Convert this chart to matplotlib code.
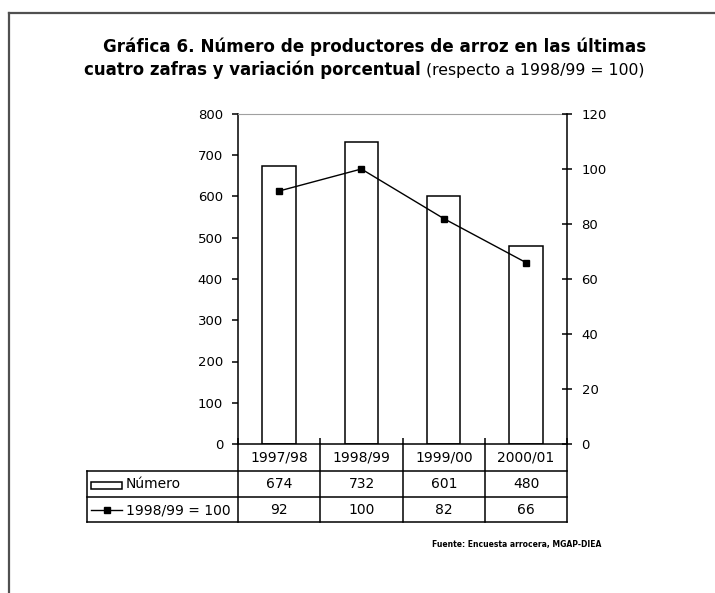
import matplotlib
matplotlib.use('Agg')
import matplotlib.pyplot as plt
from matplotlib.lines import Line2D
from matplotlib.patches import Rectangle

# Data
zafras = ['1997/98', '1998/99', '1999/00', '2000/01']
numero = [674, 732, 601, 480]
indice = [92, 100, 82, 66]

plt.rcParams['font.family'] = ['DejaVu Sans']

W, H = 715, 593
fig = plt.figure(figsize=(W / 100, H / 100), dpi=100)


def fx(x):
    return x / W


def fy(y):
    return 1 - y / H


def fline(xs, ys, color='black', lw=1.1, **kw):
    fig.add_artist(Line2D([fx(v) for v in xs], [fy(v) for v in ys],
                          transform=fig.transFigure, color=color,
                          lw=lw, **kw))


# outer frame (left and top only)
fline([9, 9], [13, 600], color='#505050', lw=1.6)
fline([9, 720], [13, 13], color='#505050', lw=1.6)

# axes
x0, x1, ytop, ybot = 238, 567, 114, 444
ax = fig.add_axes([fx(x0), fy(ybot), (x1 - x0) / W, (ybot - ytop) / H])
pos = list(range(len(zafras)))
ax.bar(pos, numero, width=0.41, facecolor='white', edgecolor='black', lw=1.1)
ax.set_xlim(-0.5, len(zafras) - 0.5)
ax.set_ylim(0, 800)
ax.set_yticks(range(0, 801, 100))
ax.set_xticks([p - 0.5 for p in pos] + [len(zafras) - 0.5])
ax.set_xticklabels([])
ax.tick_params(axis='x', direction='in', length=4, width=1.1)
ax.tick_params(axis='y', direction='out', length=4, width=1.1,
               labelsize=9.5, pad=6.8)
ax.spines['top'].set_color('#a0a0a0')
ax.spines['right'].set_visible(False)
for s in ['left', 'bottom']:
    ax.spines[s].set_linewidth(1.1)

ax2 = ax.twinx()
ax2.plot(pos, indice, color='black', lw=1.0, marker='s', markersize=5)
ax2.set_ylim(0, 120)
ax2.set_yticks(range(0, 121, 20))
ax2.tick_params(axis='y', direction='inout', length=7, width=1.1,
                labelsize=9.5, pad=7)
ax2.spines['right'].set_linewidth(1.1)
for s in ['top', 'left', 'bottom']:
    ax2.spines[s].set_visible(False)

# title
fig.text(fx(375), fy(47), 'Gráfica 6. Número de productores de arroz en las últimas',
         ha='center', va='center', fontsize=12.1, fontweight='bold')
t2 = fig.text(fx(84), fy(70), 'cuatro zafras y variación porcentual',
              ha='left', va='center', fontsize=11.9, fontweight='bold')
ax.annotate(' (respecto a 1998/99 = 100)', xy=(1, 0.5), xycoords=t2,
            ha='left', va='center', fontsize=11.3, annotation_clip=False)

# data table
cols = [238, 320, 403, 485, 567]
rows = [444, 471, 497, 522]
tl = 87
for c in cols:
    fline([c, c], [rows[0], rows[-1]])
for r in rows[1:]:
    fline([tl, cols[-1]], [r, r])
fline([tl, tl], [rows[1], rows[-1]])

centers = [(cols[i] + cols[i + 1]) / 2 for i in range(len(zafras))]
for i, z in enumerate(zafras):
    fig.text(fx(centers[i]), fy((rows[0] + rows[1]) / 2), z,
             ha='center', va='center', fontsize=10)
    fig.text(fx(centers[i]), fy((rows[1] + rows[2]) / 2), str(numero[i]),
             ha='center', va='center', fontsize=10)
    fig.text(fx(centers[i]), fy((rows[2] + rows[3]) / 2), str(indice[i]),
             ha='center', va='center', fontsize=10)

# legend keys inside the table
fig.add_artist(Rectangle((fx(91), fy(489)), (122 - 91) / W, 7 / H,
                         transform=fig.transFigure, facecolor='white',
                         edgecolor='black', lw=1.1))
fig.text(fx(126), fy(484), 'Número', ha='left', va='center', fontsize=10)
fline([91, 122], [510, 510], lw=1.0)
fline([106.5], [510], lw=0, marker='s', markersize=5)
fig.text(fx(126), fy(510), '1998/99 = 100', ha='left', va='center', fontsize=10)

# source
fig.text(fx(432), fy(545), 'Fuente: Encuesta arrocera, MGAP-DIEA',
         ha='left', va='center', fontsize=5.5, fontweight='bold')

fig.savefig('out.png', dpi=100)
